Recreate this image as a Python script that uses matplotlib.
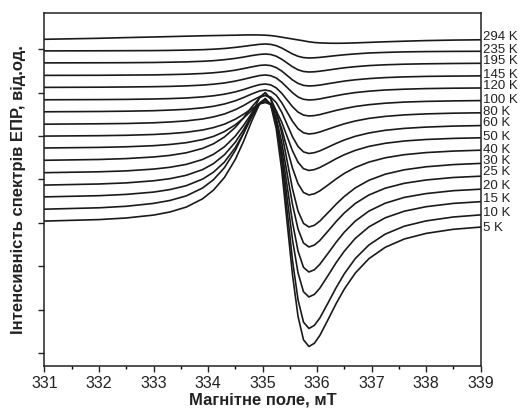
import matplotlib
matplotlib.use("Agg")
import matplotlib.pyplot as plt
from matplotlib.ticker import MultipleLocator, NullFormatter

plt.rcParams['font.family'] = ['Liberation Sans', 'DejaVu Sans']

# Magnetic field grid (mT)
field = [331, 332, 332.5, 333, 333.3, 333.6, 333.9, 334.1, 334.3, 334.5, 334.65,
         334.8, 334.95, 335.05, 335.15, 335.25, 335.35, 335.45, 335.55, 335.65,
         335.75, 335.85, 335.95, 336.05, 336.2, 336.35, 336.5, 336.7, 336.95,
         337.25, 337.6, 338.0, 338.5, 339]

temps = ["294 K", "235 K", "195 K", "145 K", "120 K", "100 K", "80 K", "60 K",
         "50 K", "40 K", "30 K", "25 K", "20 K", "15 K", "10 K", "5 K"]

# EPR spectra (arb. units, stacked as in the original)
s294 = [326.7, 327.7, 328.4, 329.0, 329.4, 329.8, 330.2, 330.4, 330.6, 330.8, 331.0, 331.1, 331.0, 330.8, 330.4, 329.7, 328.8, 327.9, 327.0, 326.1, 325.2, 324.2, 323.5, 323.1, 322.8, 322.7, 322.8, 323.1, 323.6, 324.2, 324.8, 325.4, 325.9, 326.2]
s235 = [315.1, 315.2, 315.3, 315.4, 315.6, 315.9, 316.3, 316.8, 317.5, 318.6, 319.6, 320.7, 321.7, 322, 321.6, 320.3, 318.0, 315, 312.0, 309.7, 308.4, 308, 308.2, 308.6, 309.5, 310.4, 311.2, 312.1, 313.0, 313.6, 314.1, 314.4, 314.6, 314.7]
s195 = [303.1, 303.2, 303.3, 303.5, 303.8, 304.1, 304.7, 305.3, 306.3, 307.6, 308.9, 310.4, 311.6, 312, 311.5, 309.8, 306.8, 303, 299.2, 296.2, 294.5, 294, 294.2, 294.8, 295.9, 297.1, 298.2, 299.3, 300.4, 301.2, 301.8, 302.2, 302.5, 302.7]
s145 = [290.6, 290.7, 290.9, 291.1, 291.4, 291.8, 292.5, 293.2, 294.3, 295.8, 297.4, 299.1, 300.6, 301, 300.4, 298.4, 295.0, 290.5, 286.0, 282.6, 280.6, 280, 280.3, 280.9, 282.3, 283.6, 284.9, 286.2, 287.4, 288.4, 289.1, 289.6, 289.9, 290.1]
s120 = [278.6, 278.8, 279.0, 279.3, 279.6, 280.1, 280.9, 281.8, 283.0, 284.9, 286.7, 288.7, 290.5, 291, 290.3, 288.0, 283.8, 278.5, 273.2, 269.0, 266.7, 266, 266.3, 267.1, 268.7, 270.3, 271.8, 273.4, 274.8, 276.0, 276.8, 277.4, 277.8, 278.0]
s100 = [266.2, 266.4, 266.6, 267.0, 267.4, 268.0, 269.1, 270.2, 271.8, 274.1, 276.4, 279.1, 281.4, 282, 281.1, 278.1, 272.8, 266, 259.2, 253.9, 250.9, 250, 250.4, 251.4, 253.5, 255.6, 257.4, 259.5, 261.3, 262.8, 263.9, 264.6, 265.1, 265.4]
s80 = [254.2, 254.5, 254.8, 255.3, 255.9, 256.7, 258.2, 259.7, 262.0, 265.2, 268.4, 272.0, 275.1, 276, 274.8, 270.7, 263.4, 254, 244.6, 237.3, 233.2, 232, 232.6, 234.0, 236.8, 239.6, 242.2, 245.0, 247.6, 249.6, 251.1, 252.1, 252.8, 253.2]
s60 = [241.8, 242.2, 242.5, 243.2, 244.0, 245.1, 247.0, 249.1, 252.0, 256.3, 260.4, 265.2, 269.4, 270.5, 268.9, 263.5, 253.9, 241.5, 229.1, 219.5, 214.1, 212.5, 213.3, 215.1, 218.8, 222.6, 226.0, 229.7, 233.0, 235.7, 237.6, 238.9, 239.9, 240.4]
s50 = [229.9, 230.3, 230.7, 231.5, 232.4, 233.7, 236.0, 238.4, 241.8, 246.8, 251.7, 257.3, 262.2, 263.5, 261.7, 255.2, 244.0, 229.5, 215.0, 203.8, 197.3, 195.5, 196.4, 198.5, 202.8, 207.3, 211.3, 215.6, 219.6, 222.7, 225.0, 226.5, 227.6, 228.2]
s40 = [218.0, 218.6, 219.2, 220.3, 221.5, 223.3, 226.4, 229.6, 234.4, 241.2, 247.9, 255.5, 262.2, 264, 261.5, 252.7, 237.4, 217.5, 197.6, 182.3, 173.5, 171, 172.2, 175.1, 181.0, 187.1, 192.6, 198.5, 203.9, 208.2, 211.3, 213.4, 214.9, 215.8]
s30 = [205.7, 206.5, 207.4, 209.0, 210.6, 213.2, 217.6, 222.2, 229.0, 238.6, 248.1, 258.9, 268.4, 271, 267.4, 255.0, 233.2, 205, 176.8, 155.0, 142.6, 139, 140.7, 144.9, 153.3, 161.9, 169.6, 178.1, 185.7, 191.8, 196.2, 199.2, 201.4, 202.6]
s25 = [193.3, 194.2, 195.1, 196.9, 198.7, 201.6, 206.5, 211.7, 219.2, 229.9, 240.5, 252.6, 263.1, 266, 262.0, 248.1, 223.9, 192.5, 161.1, 136.9, 123.0, 119, 120.9, 125.5, 134.9, 144.5, 153.1, 162.5, 171.0, 177.8, 182.7, 186.0, 188.5, 189.8]
s20 = [180.9, 182.0, 183.1, 185.2, 187.3, 190.7, 196.4, 202.4, 211.2, 223.8, 236.2, 250.3, 262.6, 266, 261.4, 245.1, 216.7, 180, 143.3, 114.9, 98.6, 94, 96.2, 101.7, 112.6, 123.8, 133.9, 144.9, 154.9, 162.8, 168.6, 172.4, 175.3, 176.8]
s15 = [169.1, 170.3, 171.6, 173.9, 176.4, 180.3, 186.9, 193.8, 203.9, 218.4, 232.6, 248.9, 263.1, 267, 261.7, 242.9, 210.3, 168, 125.7, 93.1, 74.3, 69, 71.6, 77.8, 90.4, 103.4, 114.9, 127.6, 139.1, 148.2, 154.8, 159.3, 162.6, 164.3]
s10 = [156.8, 158.2, 159.7, 162.6, 165.5, 170.1, 178.0, 186.3, 198.3, 215.6, 232.6, 251.9, 268.9, 273.5, 267.1, 244.8, 205.9, 155.5, 105.1, 66.2, 43.9, 37.5, 40.6, 48.0, 63.0, 78.4, 92.3, 107.4, 121.0, 131.9, 139.8, 145.1, 149.0, 151.1]
s5 = [144.9, 146.4, 148.0, 150.9, 154.0, 158.9, 167.2, 175.9, 188.5, 206.6, 224.5, 244.8, 262.7, 267.5, 260.8, 237.4, 196.4, 143.5, 90.6, 49.6, 26.2, 19.5, 22.7, 30.5, 46.3, 62.5, 77.0, 92.9, 107.3, 118.7, 127.0, 132.6, 136.7, 138.9]

spectra = [s294, s235, s195, s145, s120, s100, s80, s60, s50, s40, s30, s25, s20, s15, s10, s5]

# label vertical positions (layout)
label_y = [329, 316, 305, 291, 280, 266, 254, 243, 229, 216, 205, 194, 180, 167, 153, 138]

fig = plt.figure(figsize=(5.21, 4.12), dpi=100)
ax = fig.add_axes([0.0854, 0.1117, 0.8372, 0.8575])

for s in spectra:
    ax.plot(field, s, color='#1a1a1a', lw=1.2, solid_joinstyle='round')

ax.set_xlim(331, 339)
ax.set_ylim(0, 353.3)
ax.xaxis.set_major_locator(MultipleLocator(1))
ax.xaxis.set_minor_locator(MultipleLocator(0.5))
ax.set_yticks([13 + 43.4 * k for k in range(8)])
ax.yaxis.set_major_formatter(NullFormatter())
ax.tick_params(axis='both', which='major', direction='out', length=4, width=1.0,
               labelsize=11.5, colors='#222222', pad=3)
ax.tick_params(axis='x', which='minor', direction='out', length=2.5, width=1.0)
for sp in ax.spines.values():
    sp.set_linewidth(1.1)
    sp.set_color('#222222')

for t, yy in zip(temps, label_y):
    ax.text(1.006, yy, t, transform=ax.get_yaxis_transform(), fontsize=9.5,
            va='center', ha='left', color='#222222', clip_on=False)

ax.set_xlabel('Магнітне поле, мТ', fontsize=12, fontweight='bold', labelpad=1, color='#222222')
ax.set_ylabel('Інтенсивність спектрів ЕПР, від.од.', fontsize=12, fontweight='bold',
              labelpad=6, color='#222222')

fig.savefig('out.png', dpi=100)
